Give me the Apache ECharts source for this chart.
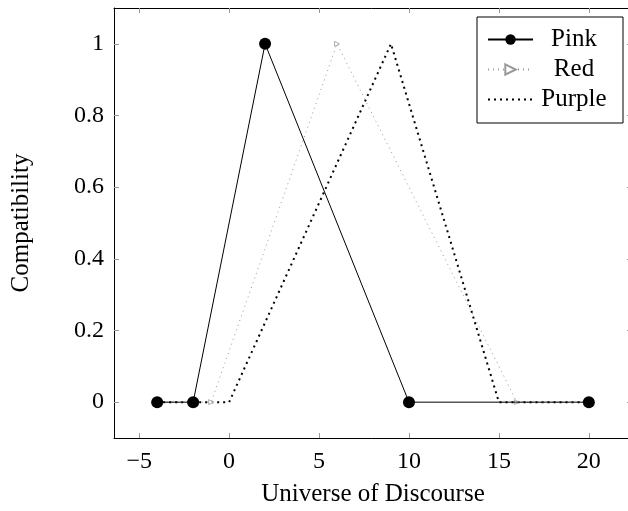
<!DOCTYPE html>
<html><head><meta charset="utf-8">
<script src="https://cdn.jsdelivr.net/npm/echarts@6/dist/echarts.min.js"></script>
<style>html,body{margin:0;padding:0;background:#fff}#c{width:628px;height:511px}</style>
</head><body><div id="c"></div>
<script>
const pinkX = [-4, -2, 2, 10, 20];
const pinkY = [0, 0, 1, 0, 0];
const redX = [-4, -1, 6, 16, 20];
const redY = [0, 0, 1, 0, 0];
const purpleX = [-4, 0, 9, 15, 20];
const purpleY = [0, 0, 1, 0, 0];
const xTicks = [-5, 0, 5, 10, 15, 20];
const yTicks = [0, 0.2, 0.4, 0.6, 0.8, 1];

const zip = (xs, ys) => xs.map((x, i) => [x, ys[i]]);
const font = 'Liberation Serif';
const fmtX = v => (v < 0 ? '\u2212' + Math.abs(v) : String(v));
const tickStyle = {show: true, inside: true, length: 5, lineStyle: {color: '#999', width: 1}};
const lineAx = {show: true, onZero: false, lineStyle: {color: '#000', width: 1}};

const chart = echarts.init(document.getElementById('c'));
chart.setOption({
  animation: false,
  backgroundColor: '#fff',
  grid: {left: 114, top: 8, width: 518, height: 430, containLabel: false, outerBoundsMode: 'none'},
  xAxis: [{
    type: 'value', min: -6.4, max: 22.4, position: 'bottom',
    name: 'Universe of Discourse', nameLocation: 'middle', nameGap: 44,
    nameTextStyle: {fontFamily: font, fontSize: 25, color: '#000'},
    axisLine: lineAx,
    axisTick: Object.assign({customValues: xTicks}, tickStyle),
    axisLabel: {customValues: xTicks, formatter: fmtX, fontFamily: font, fontSize: 24, color: '#000', margin: 12},
    splitLine: {show: false}
  }, {
    type: 'value', min: -6.4, max: 22.4, position: 'top',
    axisLine: lineAx,
    axisTick: Object.assign({customValues: xTicks}, tickStyle),
    axisLabel: {show: false}, splitLine: {show: false}
  }],
  yAxis: [{
    type: 'value', min: -0.1, max: 1.1, position: 'left',
    name: 'Compatibility', nameLocation: 'middle', nameGap: 80, nameRotate: 90,
    nameTextStyle: {fontFamily: font, fontSize: 25, color: '#000'},
    axisLine: lineAx,
    axisTick: Object.assign({customValues: yTicks}, tickStyle),
    axisLabel: {customValues: yTicks, formatter: v => String(+v.toFixed(1)), fontFamily: font, fontSize: 24, color: '#000', margin: 10},
    splitLine: {show: false}
  }, {
    type: 'value', min: -0.1, max: 1.1, position: 'right',
    axisLine: lineAx,
    axisTick: Object.assign({customValues: yTicks}, tickStyle),
    axisLabel: {show: false}, splitLine: {show: false}
  }],
  legend: {
    orient: 'vertical', left: 477, top: 17,
    padding: [10, 13, 11, 10], itemGap: 5, itemWidth: 45, itemHeight: 13,
    backgroundColor: '#fff', borderColor: '#000', borderWidth: 1,
    formatter: '{a|{name}}',
    textStyle: {fontFamily: font, fontSize: 25, color: '#000',
      rich: {a: {fontFamily: font, fontSize: 25, color: '#000', width: 72, align: 'center', lineHeight: 25}}},
    data: ['Pink', 'Red', {name: 'Purple', itemStyle: {opacity: 0}}]
  },
  series: [
    {
      name: 'Purple', type: 'line', data: zip(purpleX, purpleY), showSymbol: false, symbol: 'none',
      lineStyle: {color: '#000', width: 2, type: [2, 4]}, itemStyle: {color: '#000'}, z: 2
    },
    {
      name: 'Red', type: 'line', data: zip(redX, redY), symbol: 'triangle', symbolSize: 5, symbolRotate: -90,
      lineStyle: {color: '#999', width: 1, type: [1, 4]}, itemStyle: {color: '#fff', borderColor: '#999', borderWidth: 0.8}, z: 3
    },
    {
      name: 'Pink', type: 'line', data: zip(pinkX, pinkY), symbol: 'circle', symbolSize: 12,
      lineStyle: {color: '#000', width: 1}, itemStyle: {color: '#000'}, z: 4
    }
  ]
});
</script></body></html>
